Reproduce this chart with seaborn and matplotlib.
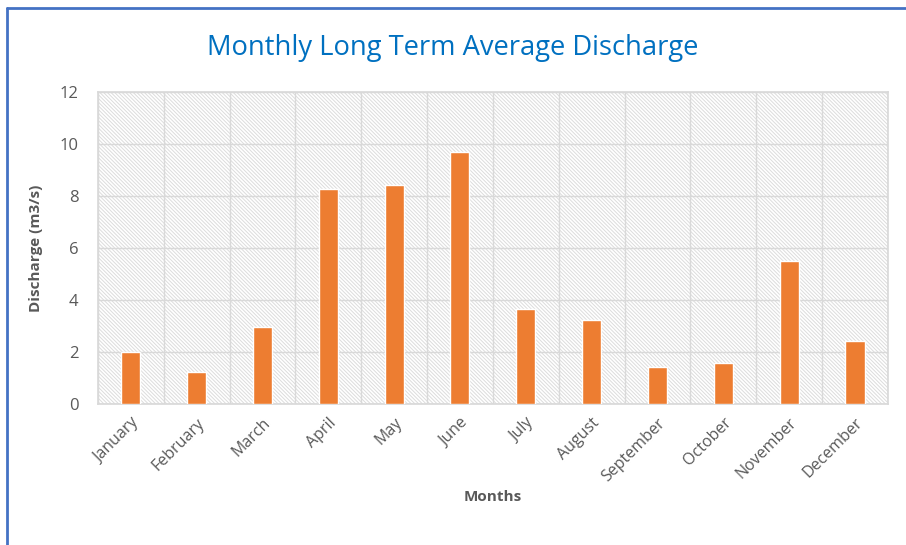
import matplotlib
matplotlib.use("Agg")
import matplotlib.pyplot as plt
import seaborn as sns
import pandas as pd
from matplotlib.lines import Line2D

months = ["January", "February", "March", "April", "May", "June",
          "July", "August", "September", "October", "November", "December"]
discharge = [2.01, 1.24, 2.97, 8.26, 8.42, 9.69, 3.64, 3.21, 1.40, 1.57, 5.50, 2.40]

df = pd.DataFrame({"Months": months, "Discharge": discharge})

sns.set_theme(style="white")
plt.rcParams["font.family"] = ["Open Sans", "DejaVu Sans"]
plt.rcParams["hatch.color"] = "#dcdcdc"
plt.rcParams["hatch.linewidth"] = 0.7

fig = plt.figure(figsize=(9.06, 5.45), dpi=100)
ax = fig.add_axes([0.108, 0.259, 0.872, 0.572])

# hatched plot area like the Excel pattern fill
ax.patch.set_facecolor("white")
ax.patch.set_hatch("\\" * 9)
ax.patch.set_edgecolor("#dcdcdc")

sns.barplot(data=df, x="Months", y="Discharge", color="#ED7D31",
            width=0.29, saturation=1, ax=ax, zorder=3)

ax.set_ylim(0, 12)
ax.set_xlim(-0.5, 11.5)
ax.set_yticks(range(0, 13, 2))
ax.set_xticks(range(12))
ax.set_xticks([i + 0.5 for i in range(-1, 12)], minor=True)
ax.grid(axis="y", which="major", color="#d9d9d9", linewidth=1, zorder=1)
ax.grid(axis="x", which="minor", color="#d9d9d9", linewidth=1, zorder=1)
ax.grid(axis="x", which="major", visible=False)
ax.tick_params(axis="both", which="both", length=0)
for s in ax.spines.values():
    s.set_color("#d9d9d9")

ax.set_xticklabels(months, rotation=45, ha="right", rotation_mode="anchor",
                   color="#595959", fontsize=11.5)
for lab in ax.get_yticklabels():
    lab.set_color("#595959")
    lab.set_fontsize(12)
ax.tick_params(axis="y", pad=14)
ax.tick_params(axis="x", pad=8)

ax.set_xlabel("Months", fontsize=11, fontweight="bold", color="#595959", labelpad=4)
ax.set_ylabel("Discharge (m3/s)", fontsize=11, fontweight="bold", color="#595959", labelpad=12)

fig.text(0.5, 0.912, "Monthly Long Term Average Discharge", ha="center", va="center",
         fontsize=19.7, color="#0070C0")

# blue frame of the screenshot (left and top edges)
fig.add_artist(Line2D([0.008, 0.008], [0.0, 0.986], color="#4472C4", linewidth=2,
                      transform=fig.transFigure))
fig.add_artist(Line2D([0.008, 1.0], [0.986, 0.986], color="#4472C4", linewidth=2,
                      transform=fig.transFigure))

fig.savefig("out.png", dpi=100)
